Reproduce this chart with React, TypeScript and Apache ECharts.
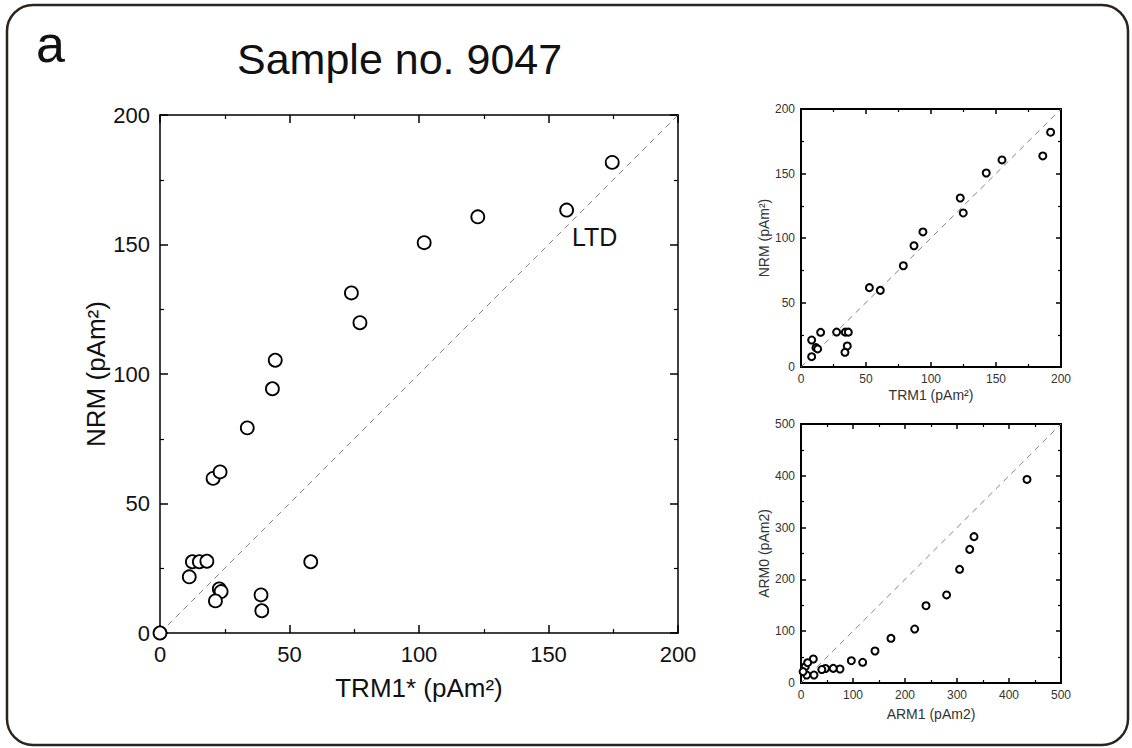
import React, { useEffect, useRef } from "react";
import * as echarts from "echarts";

// Main plot: TRM1* vs NRM
const mainTRM = [0, 11.3, 12.5, 15.2, 18.1, 22.9, 23.6, 21.4, 39.0, 39.3, 58.2, 20.5, 23.2, 33.7, 43.4, 44.5, 73.9, 77.2, 102.0, 122.7, 157.0, 174.6];
const mainNRM = [0, 21.7, 27.5, 27.5, 27.7, 17.0, 16.0, 12.4, 14.7, 8.6, 27.5, 59.7, 62.2, 79.2, 94.3, 105.3, 131.3, 119.8, 150.7, 160.7, 163.3, 181.7];

// Top-right inset: TRM1 vs NRM
const insetTRM = [8.2, 8.2, 11.5, 12.8, 15.1, 27.4, 34.1, 36.4, 35.6, 33.8, 52.6, 61.0, 78.7, 86.9, 93.8, 122.5, 124.8, 142.5, 154.6, 186.0, 192.0];
const insetNRM = [8.0, 20.9, 15.0, 14.0, 26.9, 27.1, 27.0, 27.0, 16.3, 11.4, 61.5, 59.4, 78.5, 94.0, 104.7, 131.0, 119.4, 150.4, 160.5, 163.6, 182.0];

// Bottom-right inset: ARM1 vs ARM0
const arm1 = [434.6, 332.7, 324.4, 305.0, 280.0, 240.4, 218.6, 173.0, 142.3, 118.6, 96.8, 75.0, 62.0, 47.0, 40.0, 23.7, 25.0, 11.0, 8.3, 12.8, 4.0];
const arm0 = [393.0, 282.5, 258.0, 219.5, 170.0, 149.2, 104.2, 86.3, 61.8, 40.0, 43.0, 27.0, 28.3, 28.0, 26.0, 46.3, 15.4, 15.4, 31.5, 39.2, 22.0];

// Axis ranges / ticks
const mainMax = 200;
const mainInterval = 50;
const insetTopMax = 200;
const insetTopInterval = 50;
const insetBottomMax = 500;
const insetBottomInterval = 100;

const FONT = "'Liberation Sans', Arial, Helvetica, sans-serif";

const zip = (a: number[], b: number[]) => a.map((v, i) => [v, b[i]]);

function xAxes(grid: number, max: number, interval: number, main: boolean, name: string, nameGap: number) {
  const lw = main ? 1.5 : 2;
  const base = {
    type: "value",
    gridIndex: grid,
    min: 0,
    max,
    interval,
    axisLine: { show: true, onZero: false, lineStyle: { color: "#000", width: lw } },
    axisTick: { show: true, inside: true, length: main ? 8 : 5, lineStyle: { color: "#000", width: 1.5 } },
    minorTick: { show: true, splitNumber: 2, length: main ? 4 : 3, lineStyle: { color: "#000", width: 1.2 } },
    splitLine: { show: false },
    minorSplitLine: { show: false },
  };
  return [
    {
      ...base,
      position: "bottom",
      axisLabel: { show: true, margin: main ? 10 : 6, fontSize: main ? 22 : 12, color: main ? "#111" : "#333", fontFamily: FONT },
      name,
      nameLocation: "middle",
      nameGap,
      nameTextStyle: { fontSize: main ? 26 : 14, color: main ? "#111" : "#333", fontFamily: FONT },
    },
    { ...base, position: "top", axisLabel: { show: false } },
  ];
}

function yAxes(grid: number, max: number, interval: number, main: boolean, name: string, nameGap: number) {
  const lw = main ? 1.5 : 2;
  const base = {
    type: "value",
    gridIndex: grid,
    min: 0,
    max,
    interval,
    axisLine: { show: true, onZero: false, lineStyle: { color: "#000", width: lw } },
    axisTick: { show: true, inside: true, length: main ? 8 : 5, lineStyle: { color: "#000", width: 1.5 } },
    minorTick: { show: true, splitNumber: 2, length: main ? 4 : 3, lineStyle: { color: "#000", width: 1.2 } },
    splitLine: { show: false },
    minorSplitLine: { show: false },
  };
  return [
    {
      ...base,
      position: "left",
      axisLabel: { show: true, margin: main ? 10 : 6, fontSize: main ? 22 : 12, color: main ? "#111" : "#333", fontFamily: FONT },
      name,
      nameLocation: "middle",
      nameGap,
      nameTextStyle: { fontSize: main ? 26 : 14, color: main ? "#111" : "#333", fontFamily: FONT },
    },
    { ...base, position: "right", axisLabel: { show: false } },
  ];
}

export default function App() {
  const ref = useRef<HTMLDivElement>(null);

  useEffect(() => {
    if (!ref.current) return;
    const chart = echarts.init(ref.current, undefined, { renderer: "svg" });

    const scatterStyle = (size: number, bw: number) => ({
      type: "scatter",
      symbol: "circle",
      symbolSize: size,
      itemStyle: { color: "#fff", borderColor: "#000", borderWidth: bw, opacity: 1 },
      z: 3,
    });
    const diag = (xi: number, yi: number, max: number) => ({
      type: "line",
      xAxisIndex: xi,
      yAxisIndex: yi,
      data: [
        [0, 0],
        [max, max],
      ],
      symbol: "none",
      lineStyle: { color: "#808080", width: 1, type: [6, 5] },
      z: 2,
      silent: true,
    });

    chart.setOption({
      animation: false,
      backgroundColor: "#fff",
      grid: [
        { left: 160, top: 115, width: 518, height: 518 },
        { left: 801, top: 109, width: 260, height: 258 },
        { left: 801, top: 424, width: 260, height: 259 },
      ],
      xAxis: [
        ...xAxes(0, mainMax, mainInterval, true, "TRM1* (pAm²)", 42),
        ...xAxes(1, insetTopMax, insetTopInterval, false, "TRM1 (pAm²)", 21),
        ...xAxes(2, insetBottomMax, insetBottomInterval, false, "ARM1 (pAm2)", 24),
      ],
      yAxis: [
        ...yAxes(0, mainMax, mainInterval, true, "NRM (pAm²)", 51),
        ...yAxes(1, insetTopMax, insetTopInterval, false, "NRM (pAm²)", 27),
        ...yAxes(2, insetBottomMax, insetBottomInterval, false, "ARM0 (pAm2)", 27),
      ],
      series: [
        diag(0, 0, mainMax),
        { ...scatterStyle(13, 1.8), xAxisIndex: 0, yAxisIndex: 0, data: zip(mainTRM, mainNRM) },
        diag(2, 2, insetTopMax),
        { ...scatterStyle(7, 2), xAxisIndex: 2, yAxisIndex: 2, data: zip(insetTRM, insetNRM) },
        diag(4, 4, insetBottomMax),
        { ...scatterStyle(7, 2), xAxisIndex: 4, yAxisIndex: 4, data: zip(arm1, arm0) },
      ],
      graphic: [
        {
          type: "rect",
          shape: { x: 7, y: 5, width: 1121, height: 740, r: 26 },
          style: { fill: "none", stroke: "#2a2420", lineWidth: 2.5 },
          z: 0,
          silent: true,
        },
        {
          type: "text",
          x: 36,
          y: 44,
          style: { text: "a", fontSize: 52, fontFamily: FONT, fill: "#111", textVerticalAlign: "middle", verticalAlign: "middle" },
        },
        {
          type: "text",
          x: 237,
          y: 59,
          style: { text: "Sample no. 9047", fontSize: 43, fontFamily: FONT, fill: "#111", textVerticalAlign: "middle", verticalAlign: "middle" },
        },
        {
          type: "text",
          x: 572,
          y: 237,
          style: { text: "LTD", fontSize: 25, fontFamily: FONT, fill: "#111", textVerticalAlign: "middle", verticalAlign: "middle" },
        },
      ],
    });

    return () => chart.dispose();
  }, []);

  return (
    <div
      ref={ref}
      style={{ position: "fixed", left: 0, top: 0, width: 1132, height: 748, background: "#fff" }}
    />
  );
}
